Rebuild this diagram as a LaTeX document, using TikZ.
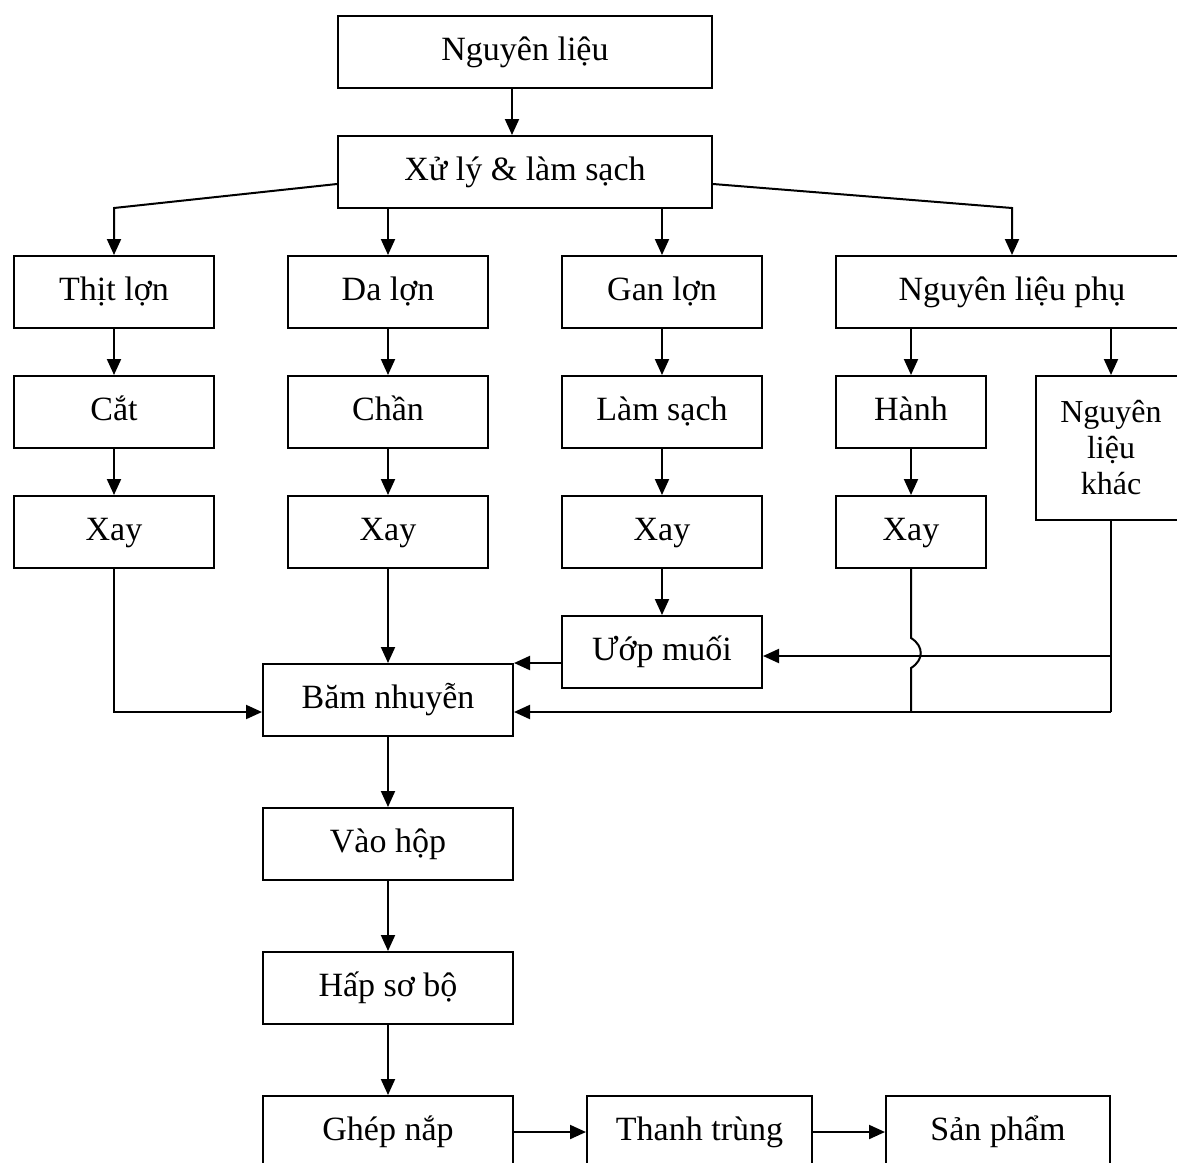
\documentclass[tikz,border=0pt]{standalone}
\usepackage{fontspec}
\setmainfont{Liberation Serif}
\usetikzlibrary{arrows.meta}
\tikzset{
  stepbox/.style={draw, line width=1pt, minimum height=36pt, inner sep=1pt,
                  text height=12pt, text depth=4pt,
                  font=\fontsize{17}{20}\selectfont},
  smallbox/.style={draw, line width=1pt, inner sep=1pt, align=center,
                  font=\fontsize{16}{18}\selectfont},
  flow/.style={line width=1pt, -{Triangle[length=8pt,width=7pt]}},
  link/.style={line width=1pt},
}

\begin{document}
\begin{tikzpicture}[x=0.5pt, y=-0.5pt]
  \useasboundingbox (0,0) rectangle (1177,1162);
  \node[stepbox, minimum width=187pt] (raw) at (525,52) {Nguyên liệu};
  \node[stepbox, minimum width=187pt] (prep) at (525,172) {Xử lý \& làm sạch};
  \node[stepbox, minimum width=100pt] (pork) at (114,292) {Thịt lợn};
  \node[stepbox, minimum width=100pt] (skin) at (388,292) {Da lợn};
  \node[stepbox, minimum width=100pt] (liver) at (662,292) {Gan lợn};
  \node[stepbox, minimum width=176pt] (extra) at (1012,292) {Nguyên liệu phụ};
  \node[stepbox, minimum width=100pt] (cut) at (114,412) {Cắt};
  \node[stepbox, minimum width=100pt] (blanch) at (388,412) {Chần};
  \node[stepbox, minimum width=100pt] (clean) at (662,412) {Làm sạch};
  \node[stepbox, minimum width=75pt] (onion) at (911,412) {Hành};
  \node[smallbox, minimum width=75pt, minimum height=72pt] (other) at (1111,448) {Nguyên\\liệu\\khác};
  \node[stepbox, minimum width=100pt] (mince1) at (114,532) {Xay};
  \node[stepbox, minimum width=100pt] (mince2) at (388,532) {Xay};
  \node[stepbox, minimum width=100pt] (mince3) at (662,532) {Xay};
  \node[stepbox, minimum width=75pt] (mince4) at (911,532) {Xay};
  \node[stepbox, minimum width=100pt] (salt) at (662,652) {Ướp muối};
  \node[stepbox, minimum width=125pt] (chop) at (388,700) {Băm nhuyễn};
  \node[stepbox, minimum width=125pt] (can) at (388,844) {Vào hộp};
  \node[stepbox, minimum width=125pt] (steam) at (388,988) {Hấp sơ bộ};
  \node[stepbox, minimum width=125pt] (seal) at (388,1132) {Ghép nắp};
  \node[stepbox, minimum width=112.5pt] (sterile) at (699.5,1132) {Thanh trùng};
  \node[stepbox, minimum width=112pt] (product) at (998,1132) {Sản phẩm};

  \coordinate (kL) at (114,208);
  \coordinate (kR) at (1012,208);
  \coordinate (jA) at (114,712);
  \coordinate (jB) at (1111,712);
  \coordinate (jC) at (1111,656);
  \coordinate (hopA) at (911,638);
  \coordinate (hopB) at (911,668);
  \coordinate (jD) at (911,712);

  \draw[flow] ([xshift=-6.5pt]raw.south) -- ([xshift=-6.5pt]prep.north);
  \draw[flow] ([yshift=-6pt]prep.west) -- (kL) -- (pork.north);
  \draw[flow] (prep.south -| skin.north) -- (skin.north);
  \draw[flow] (prep.south -| liver.north) -- (liver.north);
  \draw[flow] ([yshift=-6pt]prep.east) -- (kR) -- (extra.north);
  \draw[flow] (extra.south -| onion.north) -- (onion.north);
  \draw[flow] (extra.south -| other.north) -- (other.north);
  \foreach \a/\b in {pork/cut, skin/blanch, liver/clean, cut/mince1,
                     blanch/mince2, clean/mince3, onion/mince4, mince3/salt,
                     mince2/chop, chop/can, can/steam, steam/seal,
                     seal/sterile, sterile/product}
    \draw[flow] (\a) -- (\b);

  % side feeds into the mincing step
  \draw[flow] (mince1.south) -- (jA) -- (chop.west |- jA);
  \draw[flow] (salt.west |- chop.north) -- (chop.north east);
  \draw[link] (other.south) -- (jB);
  \draw[flow] (jB) -- (chop.east |- jB);
  \draw[flow] (jC) -- (salt.east |- jC);
  \draw[link] (mince4.south) -- (hopA) .. controls (924,646) and (924,660) .. (hopB) -- (jD);
\end{tikzpicture}
\end{document}
